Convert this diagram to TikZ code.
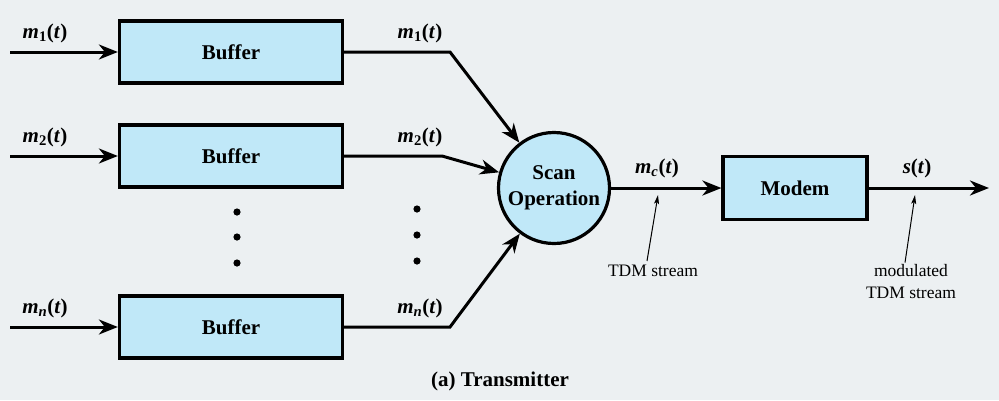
\documentclass[tikz,border=0pt]{standalone}
\usepackage{fontspec}
\setmainfont{Liberation Serif}
\usetikzlibrary{arrows.meta}
\definecolor{bgc}{RGB}{236,240,242}
\definecolor{boxc}{RGB}{192,232,248}
\newcommand{\sigl}[2]{\textbf{\textit{#1}\textsubscript{#2}(\textit{t})}}
\begin{document}
\begin{tikzpicture}[x=1pt,y=-1pt,
  lbl/.style={font=\fontsize{21}{24}\selectfont, inner sep=0pt},
  note/.style={font=\fontsize{17.5}{22}\selectfont, inner sep=0pt, align=center},
  blk/.style={draw, line width=3.2pt, fill=boxc, minimum width=223pt, minimum height=62pt,
    font=\fontsize{21}{24}\selectfont\bfseries},
  modbox/.style={blk, minimum width=144pt, minimum height=63pt},
  scan/.style={draw, circle, line width=3.2pt, fill=boxc, minimum size=111pt, inner sep=0pt,
    align=center, font=\fontsize{21}{26}\selectfont\bfseries},
  sig/.style={line width=3pt, -{Stealth[length=19pt,width=15pt,inset=6pt]}},
  thin/.style={line width=1pt, -{Stealth[length=9pt,width=5pt,inset=2pt]}},
  dot/.style={fill=black}
]
\useasboundingbox[fill=bgc] (0,0) rectangle (999,400);

% buffers
\node[blk] (b1) at (231,52) {Buffer};
\node[blk] (b2) at (231,156) {Buffer};
\node[blk] (bn) at (231,327) {Buffer};
\node[scan] (sc) at (554,188) {Scan\\Operation};
\node[modbox] (mod) at (795,188) {Modem};

% free ends
\coordinate (i1) at (10,52);
\coordinate (i2) at (10,156);
\coordinate (in) at (10,327);
\coordinate (j1) at (450,52);
\coordinate (j2) at (442,156);
\coordinate (jn) at (450,327);
\coordinate (out) at (989,188);

% connectors
\draw[sig] (i1) -- (b1.west);
\draw[sig] (i2) -- (b2.west);
\draw[sig] (in) -- (bn.west);
\draw[sig] (b1.east) -- (j1) -- (sc);
\draw[sig] (b2.east) -- (j2) -- (sc);
\draw[sig] (bn.east) -- (jn) -- (sc);
\draw[sig] (sc.east) -- (mod.west);
\draw[sig] (mod.east) -- (out);

% labels
\node[lbl] (li1) at (45,33) {\sigl{m}{1}};
\node[lbl] (li2) at (45,137) {\sigl{m}{2}};
\node[lbl] (lin) at (45,308) {\sigl{m}{\textit{n}}};
\node[lbl] (lo1) at (420,33) {\sigl{m}{1}};
\node[lbl] (lo2) at (420,137) {\sigl{m}{2}};
\node[lbl] (lon) at (420,308) {\sigl{m}{\textit{n}}};
\node[lbl] (lmc) at (657,168) {\sigl{m}{\textit{c}}};
\node[lbl] (lst) at (917,168) {\textbf{\textit{s}(\textit{t})}};

% annotations
\node[note] (tdm) at (653,271) {TDM stream};
\node[note] (mtdm) at (911,282) {modulated\\TDM stream};
\coordinate (tdmtip) at (658,195);
\coordinate (mtdmtip) at (915,195);
\draw[thin] (tdm.north) ++(-6,-4) coordinate (tdmbase) -- (tdmtip);
\draw[thin] (mtdm.north) ++(-6,-2) coordinate (mtdmbase) -- (mtdmtip);

% dots
\foreach \y in {212,237,263} \fill[dot] (237,\y) circle (3.6pt);
\foreach \y in {209,235,261} \fill[dot] (417,\y) circle (3.6pt);

% caption
\node[lbl, font=\fontsize{21}{24}\selectfont\bfseries] (cap) at (500,381) {(a) Transmitter};
\end{tikzpicture}
\end{document}
